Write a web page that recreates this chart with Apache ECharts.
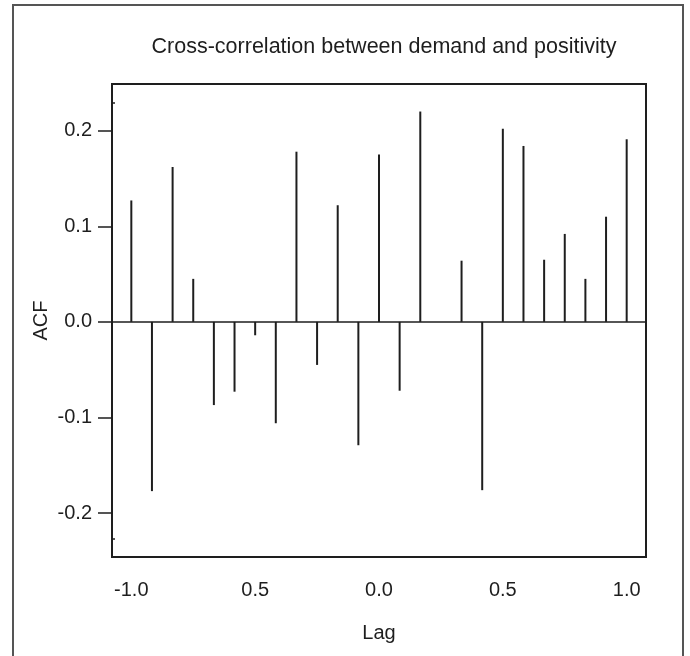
<!DOCTYPE html>
<html>
<head>
<meta charset="utf-8">
<script src="https://cdn.jsdelivr.net/npm/echarts@6/dist/echarts.min.js"></script>
<style>
  html, body { margin: 0; padding: 0; background: #fff; }
  #chart { width: 690px; height: 656px; }
</style>
</head>
<body>
<div id="chart"></div>
<script>
// Lags (in years) at which the cross-correlation was computed
const lags = [
  -1.0, -0.9167, -0.8333, -0.75, -0.6667, -0.5833, -0.5, -0.4167, -0.3333,
  -0.25, -0.1667, -0.0833, 0.0, 0.0833, 0.1667, 0.25, 0.3333, 0.4167, 0.5,
  0.5833, 0.6667, 0.75, 0.8333, 0.9167, 1.0
];
// Cross-correlation coefficient at each lag
const acf = [
  0.127, -0.177, 0.162, 0.045, -0.087, -0.073, -0.014, -0.106, 0.178,
  -0.045, 0.122, -0.129, 0.175, -0.072, 0.220, 0.000, 0.064, -0.176, 0.202,
  0.184, 0.065, 0.092, 0.045, 0.110, 0.191
];
// Axis ticks and their printed labels
const xTickValues = [-1.0, -0.5, 0.0, 0.5, 1.0];
const xTickLabels = ['-1.0', '0.5', '0.0', '0.5', '1.0'];
const yTickValues = [-0.2, -0.1, 0.0, 0.1, 0.2];
const yTickLabels = ['-0.2', '-0.1', '0.0', '0.1', '0.2'];
const yMinorMarks = [-0.227, 0.2297];

const FONT = "'Liberation Sans', Arial, sans-serif";
const INK = '#1e1e1e';

function labelFor(values, labels) {
  return function (v) {
    let best = 0;
    for (let i = 1; i < values.length; i++) {
      if (Math.abs(values[i] - v) < Math.abs(values[best] - v)) best = i;
    }
    return labels[best];
  };
}

const chart = echarts.init(document.getElementById('chart'), null, { renderer: 'canvas' });

chart.setOption({
  animation: false,
  backgroundColor: '#fff',
  title: {
    text: 'Cross-correlation between demand and positivity',
    left: 379,
    textAlign: 'center',
    top: 31,
    textStyle: { fontFamily: FONT, fontSize: 21.5, fontWeight: 'normal', color: INK }
  },
  graphic: [{
    type: 'rect',
    shape: { x: 13, y: 5, width: 670, height: 700 },
    style: { fill: 'none', stroke: '#555', lineWidth: 2 },
    silent: true
  }],
  grid: {
    left: 112, top: 84, right: 44, bottom: 99,
    show: true, borderColor: INK, borderWidth: 2, backgroundColor: 'transparent'
  },
  xAxis: {
    type: 'value',
    min: -1.078, max: 1.078,
    name: 'Lag',
    nameLocation: 'middle',
    nameGap: 66,
    nameMoveOverlap: false,
    nameTextStyle: { fontFamily: FONT, fontSize: 20, color: INK },
    axisLine: { show: false, onZero: false },
    axisTick: { show: false },
    splitLine: { show: false },
    axisLabel: {
      customValues: xTickValues,
      formatter: labelFor(xTickValues, xTickLabels),
      margin: 23,
      fontFamily: FONT, fontSize: 20, color: INK
    }
  },
  yAxis: [{
    type: 'value',
    min: -0.2459, max: 0.2488,
    name: 'ACF',
    nameLocation: 'middle',
    nameGap: 61,
    nameMoveOverlap: false,
    nameTextStyle: { fontFamily: FONT, fontSize: 20, color: INK },
    axisLine: { show: false, onZero: false },
    axisTick: {
      show: true, inside: false, length: 14,
      customValues: yTickValues,
      lineStyle: { color: INK, width: 1.5 }
    },
    splitLine: { show: false },
    axisLabel: {
      customValues: yTickValues,
      formatter: labelFor(yTickValues, yTickLabels),
      margin: 20,
      fontFamily: FONT, fontSize: 20, color: INK
    }
  }, {
    type: 'value',
    position: 'left',
    min: -0.2459, max: 0.2488,
    axisLine: { show: false, onZero: false },
    axisTick: {
      show: true, inside: true, length: 3,
      customValues: yMinorMarks,
      lineStyle: { color: INK, width: 1.5 }
    },
    axisLabel: { show: false },
    splitLine: { show: false }
  }],
  series: [{
    type: 'bar',
    xAxisIndex: 0,
    yAxisIndex: 0,
    barWidth: 2,
    itemStyle: { color: INK },
    data: lags.map((l, i) => [l, acf[i]]),
    markLine: {
      silent: true,
      symbol: ['none', 'none'],
      label: { show: false },
      lineStyle: { color: INK, width: 1.5, type: 'solid' },
      data: [{ yAxis: 0 }]
    }
  }]
});
</script>
</body>
</html>
